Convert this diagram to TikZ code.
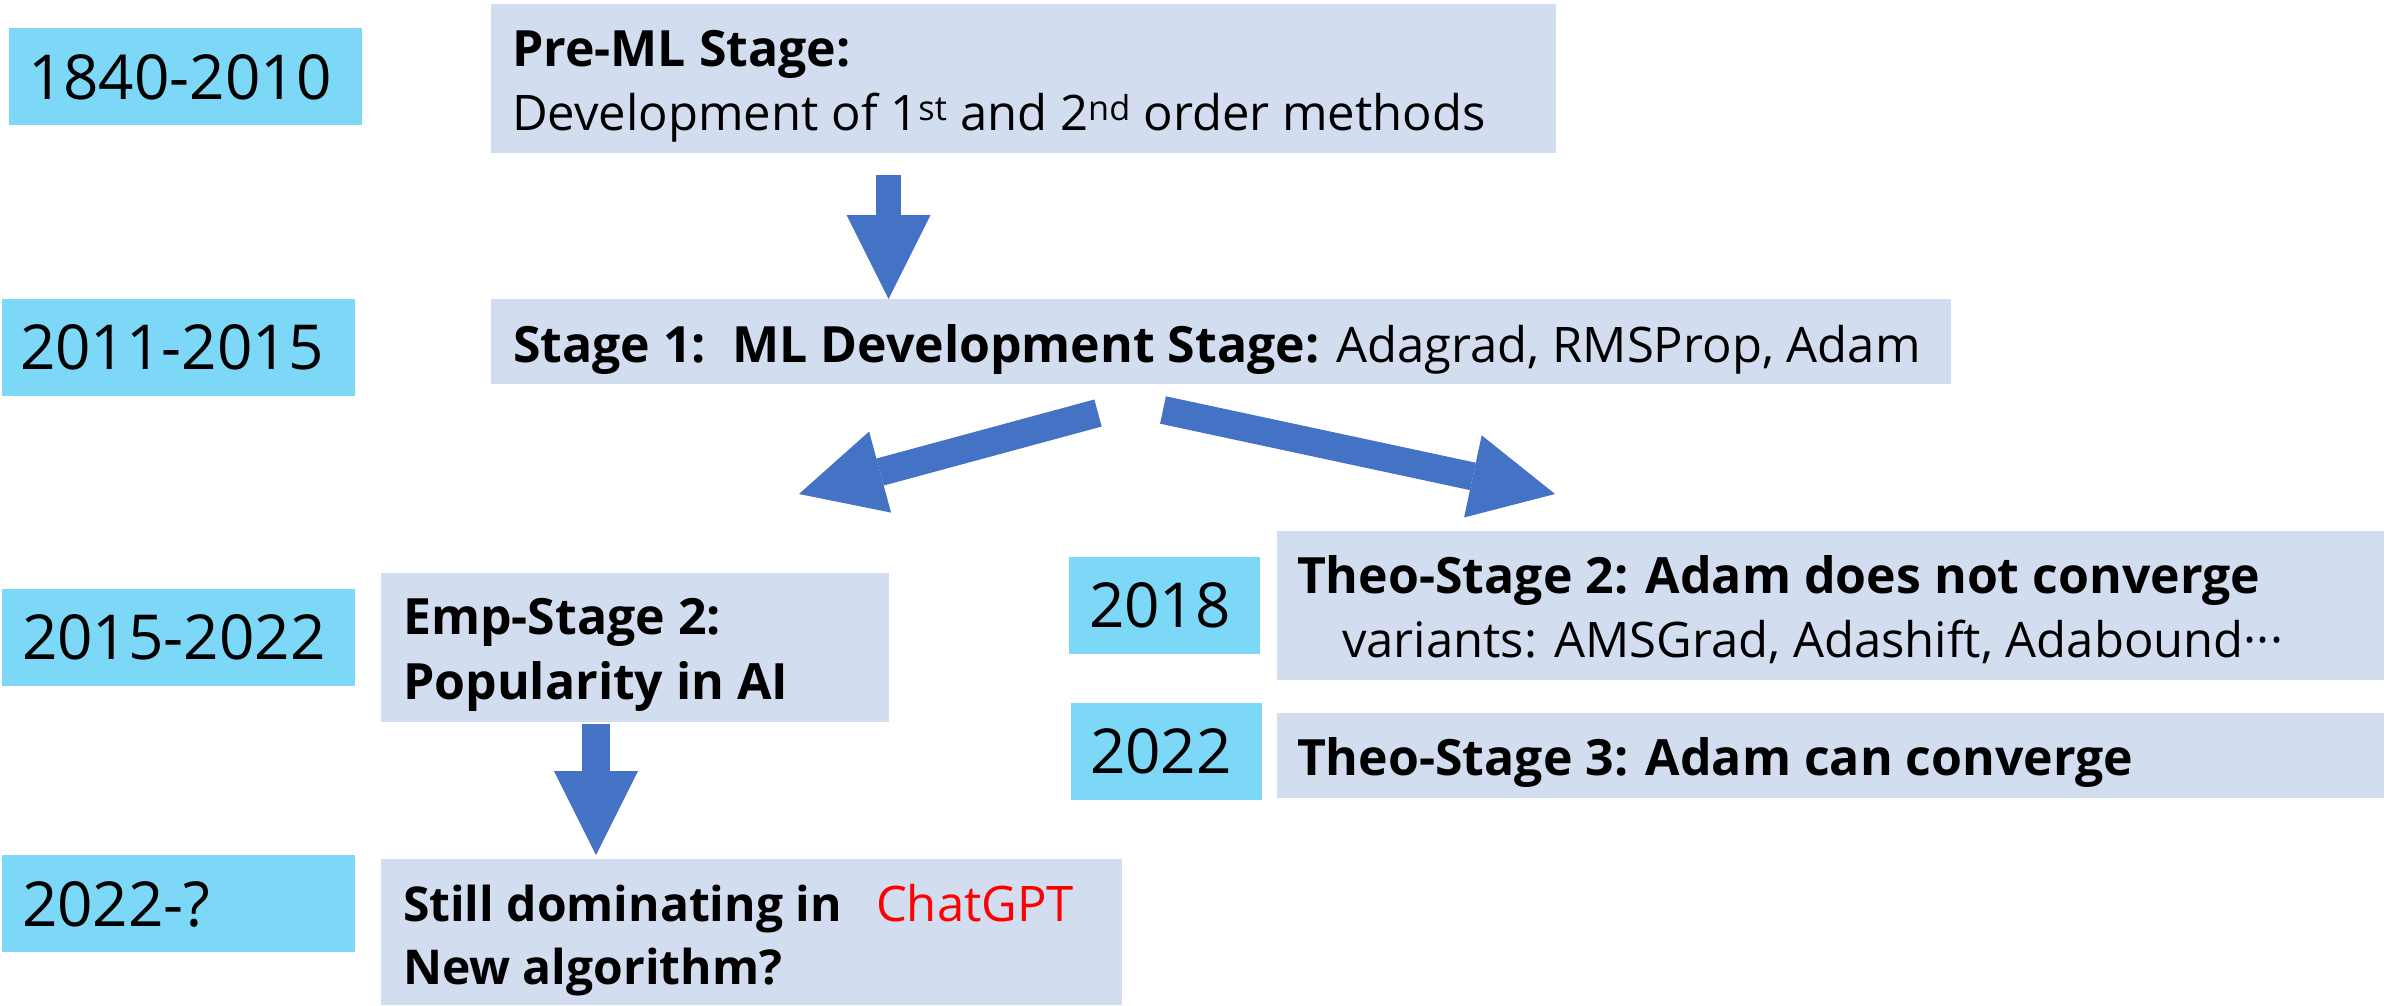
\documentclass[tikz,border=0pt]{standalone}
\usepackage{fontspec}
\setmainfont{Open Sans}
\usetikzlibrary{arrows.meta}

\definecolor{yearfill}{HTML}{7DD7F7}
\definecolor{stagefill}{HTML}{D2DEF0}
\definecolor{flow}{HTML}{4472C4}
\definecolor{hot}{HTML}{FF0000}

\newcommand{\yearsize}{\fontsize{62}{74}\selectfont}
\newcommand{\headsize}{\fontsize{50}{60}\selectfont\bfseries}
\newcommand{\smallheadsize}{\fontsize{48}{58}\selectfont\bfseries}
\newcommand{\bodysize}{\fontsize{49}{59}\selectfont}

\tikzset{
  yearbox/.style={fill=yearfill, draw=none, inner sep=0pt, outer sep=0pt, anchor=north west},
  stagebox/.style={fill=stagefill, draw=none, inner sep=0pt, outer sep=0pt, anchor=north west},
  txt/.style={anchor=base west, inner sep=0pt, outer sep=0pt},
  yeartxt/.style={txt, font=\yearsize},
  headtxt/.style={txt, font=\headsize},
  bodytxt/.style={txt, font=\bodysize},
  flowarrow/.style={draw=flow, line width=#1, line cap=butt,
    -{Triangle[length=84pt, width=84pt, line width=0pt]}},
}

\begin{document}
\begin{tikzpicture}[x=1pt, y=-1pt]
\useasboundingbox (0,0) rectangle (2386,1005);

% year labels
\node[yearbox, minimum width=353pt, minimum height=97pt] (y1) at (9,28) {};
\node[yearbox, minimum width=353pt, minimum height=97pt] (y2) at (2,299) {};
\node[yearbox, minimum width=353pt, minimum height=97pt] (y3) at (2,589) {};
\node[yearbox, minimum width=353pt, minimum height=97pt] (y4) at (2,855) {};
\node[yearbox, minimum width=191pt, minimum height=97pt] (y5) at (1069,557) {};
\node[yearbox, minimum width=191pt, minimum height=97pt] (y6) at (1071,703) {};

\node[yeartxt] (y1t) at (28,99) {1840-2010};
\node[yeartxt] (y2t) at (20,369) {2011-2015};
\node[yeartxt] (y3t) at (22,659) {2015-2022};
\node[yeartxt] (y4t) at (22,926) {2022-?};
\node[yeartxt] (y5t) at (1089,627) {2018};
\node[yeartxt] (y6t) at (1090,773) {2022};

% stage boxes
\node[stagebox, minimum width=1065pt, minimum height=149pt] (pre) at (491,4) {};
\node[stagebox, minimum width=1460pt, minimum height=85pt] (s1) at (491,299) {};
\node[stagebox, minimum width=508pt, minimum height=149pt] (emp) at (381,573) {};
\node[stagebox, minimum width=741pt, minimum height=146pt] (still) at (381,859) {};
\node[stagebox, minimum width=1107pt, minimum height=149pt] (theo2) at (1277,531) {};
\node[stagebox, minimum width=1107pt, minimum height=85pt] (theo3) at (1277,713) {};

\node[headtxt] (preA) at (512,66) {Pre-ML Stage:};
\node[bodytxt] (preB) at (512,130) {Development of 1\textsuperscript{st} and 2\textsuperscript{nd} order methods};
\node[bodytxt] (s1A) at (513,362) {{\headsize Stage 1:\ \ ML Development Stage:} Adagrad, RMSProp, Adam};
\node[headtxt] (empA) at (403,634) {Emp-Stage 2:};
\node[headtxt] (empB) at (403,699) {Popularity in AI};
\node[txt, font=\smallheadsize] (stillA) at (403,921) {Still dominating in};
\node[bodytxt, text=hot] (stillC) at (876,921) {ChatGPT};
\node[txt, font=\smallheadsize] (stillB) at (403,984) {New algorithm?};
\node[headtxt] (theo2A) at (1297,593) {Theo-Stage 2: Adam does not converge};
\node[bodytxt] (theo2B) at (1342,657) {variants: AMSGrad, Adashift, Adabound\char"00B7\char"00B7\char"00B7};
\node[headtxt] (theo3A) at (1297,775) {Theo-Stage 3: Adam can converge};

% flow arrows
\coordinate (a1s) at (888.5,175);
\coordinate (a1e) at (888.5,299);
\coordinate (a2s) at (1098,413);
\coordinate (a2e) at (799,494);
\coordinate (a3s) at (1163,410);
\coordinate (a3e) at (1555,494);
\coordinate (a4s) at (596,724);
\coordinate (a4e) at (596,855);

\draw[flowarrow=25pt] (a1s) -- (a1e);
\draw[flowarrow=28pt] (a2s) -- (a2e);
\draw[flowarrow=28pt] (a3s) -- (a3e);
\draw[flowarrow=28pt] (a4s) -- (a4e);
\end{tikzpicture}
\end{document}
